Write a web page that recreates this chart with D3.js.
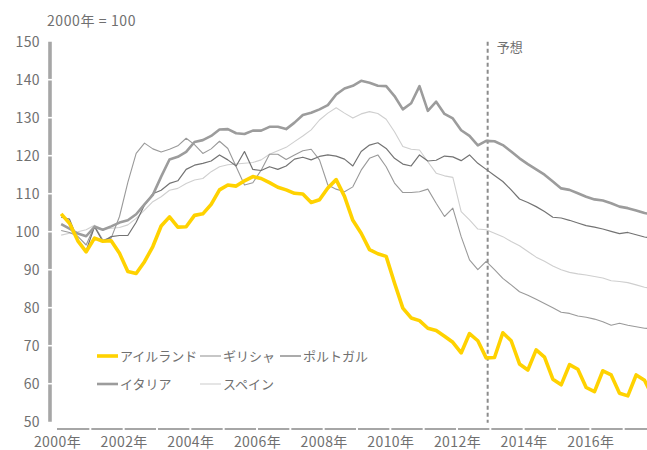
<!DOCTYPE html>
<html lang="ja">
    <head>
        <meta charset="utf-8">
        <title>住宅価格指数 2000年 = 100</title>
        <script type="text/javascript" src="https://cdn.jsdelivr.net/npm/d3@7"></script>
        <style type="text/css">
          html, body {
            margin: 0;
            padding: 0;
            background: #fff;
          }
          svg text {
            font-family: "Noto Sans CJK JP", "Noto Sans", sans-serif;
            fill: #707070;
          }
          .domain { display: none; }
        </style>
    </head>
    <body>
      <svg id="chart" width="647" height="450"></svg>

      <script type="text/javascript">
        // quarterly index, 2000Q1 - 2017Q4 (2000 = 100)
        var ireland = [104.7,102.2,97.6,94.7,98.3,97.5,97.6,94.3,89.5,89.0,
                       92.1,96.1,101.5,103.9,101.2,101.3,104.3,104.7,107.2,111.0,
                       112.3,112.0,113.4,114.5,114.0,112.9,111.7,111.0,110.1,109.9,
                       107.7,108.4,111.5,113.7,109.3,103.0,99.6,95.3,94.2,93.5,
                       86.5,79.9,77.3,76.6,74.6,74.0,72.5,70.9,68.1,73.2,
                       71.3,66.8,66.9,73.4,71.3,65.2,63.6,68.9,67.0,61.2,
                       59.7,65.0,63.8,59.0,57.9,63.4,62.3,57.5,56.8,62.3,60.9,56.5];
        var greece = [100.3,99.8,98.8,96.5,101.5,97.8,98.3,104.0,113.0,120.6,
                      123.3,121.8,121.0,121.7,122.6,124.6,122.9,120.6,121.8,123.8,
                      121.9,117.1,112.3,112.9,116.2,120.4,120.4,119.0,120.2,121.3,
                      121.7,118.9,112.3,111.2,110.5,111.8,116.2,119.3,120.2,117.1,
                      112.8,110.3,110.3,110.5,111.2,107.5,104.0,106.2,98.7,92.6,
                      90.0,92.2,90.0,87.7,86.0,84.2,83.3,82.2,81.1,80.0,
                      78.8,78.5,77.8,77.5,77.0,76.3,75.4,75.9,75.4,75.0,74.6,74.5];
        var portugal = [103.8,103.3,97.8,95.0,101.3,97.4,98.7,99.0,99.0,102.5,
                        107.0,110.0,110.9,112.7,113.4,116.4,117.5,118.0,118.6,120.2,
                        118.9,117.3,121.1,116.4,116.1,117.1,116.4,117.3,119.1,119.6,
                        118.9,119.8,120.2,119.9,119.1,117.3,121.1,122.8,123.4,121.9,
                        119.3,117.8,117.3,120.2,118.6,118.8,119.9,119.7,118.7,120.2,
                        118.0,116.4,114.8,113.2,111.0,108.6,107.7,106.6,105.3,103.8,
                        103.6,103.0,102.3,101.6,101.2,100.7,100.1,99.5,99.8,99.2,98.6,98.3];
        var italy = [102.0,100.8,99.5,98.8,101.3,100.5,101.4,102.4,103.0,104.6,
                     107.2,109.7,114.5,119.0,119.7,121.0,123.6,124.1,125.2,126.9,
                     127.0,125.9,125.7,126.6,126.6,127.6,127.6,127.0,128.7,130.7,
                     131.3,132.2,133.3,136.1,137.7,138.4,139.7,139.2,138.4,138.3,
                     135.7,132.2,133.8,138.3,131.8,134.2,131.0,129.8,126.7,125.2,
                     122.7,123.9,123.8,122.8,121.1,119.3,117.8,116.4,115.0,113.2,
                     111.4,111.0,110.1,109.2,108.5,108.2,107.5,106.6,106.2,105.6,104.9,104.5];
        var spain = [99.1,99.6,100.0,100.5,101.7,100.6,100.9,101.1,101.8,103.5,
                     105.7,107.9,109.2,110.9,111.4,112.7,113.6,114.0,115.8,117.1,
                     117.6,117.8,118.0,118.2,118.9,120.4,121.3,122.2,123.7,125.2,
                     126.8,129.4,131.2,132.6,131.2,129.9,131.0,131.6,131.1,129.6,
                     126.3,122.4,121.7,121.5,118.4,115.4,114.7,114.3,105.3,103.1,
                     100.7,100.5,99.6,98.7,97.4,96.3,94.8,93.3,92.2,91.0,
                     90.0,89.3,88.9,88.6,88.2,87.8,87.1,86.9,86.6,86.0,85.4,85.0];

        var startYear = 2000;
        var endYear = 2018;
        var yTicks = [50, 60, 70, 80, 90, 100, 110, 120, 130, 140, 150];
        var xTickYears = [2000, 2002, 2004, 2006, 2008, 2010, 2012, 2014, 2016];
        var xTickLabels = ["2000年","2002年","2004年","2006年","2008年","2010年","2012年","2014年","2016年"];
        var forecastStart = 2012.92;

        // drawing order: lightest first, Ireland on top
        var series = [
          {name: "スペイン",     values: spain,    color: "#cfcfcf", width: 1.1},
          {name: "ギリシャ",     values: greece,   color: "#9a9a9a", width: 1.1},
          {name: "ポルトガル",   values: portugal, color: "#737373", width: 1.2},
          {name: "イタリア",     values: italy,    color: "#9c9c9c", width: 2.6},
          {name: "アイルランド", values: ireland,  color: "#ffd200", width: 3.6}
        ];
        // legend layout order (row by row)
        var legendOrder = ["アイルランド", "ギリシャ", "ポルトガル", "イタリア", "スペイン"];

        var svg = d3.select("#chart");

        var x = d3.scaleLinear().domain([startYear, endYear]).range([57, 657]);
        var y = d3.scaleLinear().domain([50, 150]).range([421.7, 41.7]);

        // quarter i is drawn at the middle of its category
        var qx = function(i) { return x(startYear + (i + 0.5) / 4); };

        // y axis: thick grey bar broken at every tick
        svg.append("line")
          .attr("x1", 50).attr("x2", 50)
          .attr("y1", y(150)).attr("y2", y(50))
          .attr("stroke", "#a6a6a6")
          .attr("stroke-width", 3.6);
        svg.selectAll(".ygap")
          .data(yTicks.slice(1, -1))
          .enter()
          .append("line")
          .attr("x1", 47).attr("x2", 53)
          .attr("y1", function(d) { return y(d); })
          .attr("y2", function(d) { return y(d); })
          .attr("stroke", "#fff")
          .attr("stroke-width", 1.6);

        svg.append("g")
          .attr("transform", "translate(50,0)")
          .call(d3.axisLeft(y).tickValues(yTicks).tickSize(0).tickPadding(10))
          .call(function(g) { g.selectAll("text").style("font-size", "14px").style("letter-spacing", "0.4px"); });

        // x axis: grey line broken at every year
        svg.append("line")
          .attr("x1", x(startYear)).attr("x2", x(endYear))
          .attr("y1", 429).attr("y2", 429)
          .attr("stroke", "#a6a6a6")
          .attr("stroke-width", 2);
        svg.selectAll(".xgap")
          .data(d3.range(startYear + 1, endYear))
          .enter()
          .append("line")
          .attr("x1", function(d) { return x(d); })
          .attr("x2", function(d) { return x(d); })
          .attr("y1", 426).attr("y2", 432)
          .attr("stroke", "#fff")
          .attr("stroke-width", 2);

        svg.append("g")
          .attr("transform", "translate(0,429)")
          .call(d3.axisBottom(x).tickValues(xTickYears).tickSize(0).tickPadding(8)
            .tickFormat(function(d, i) { return xTickLabels[i]; }))
          .call(function(g) { g.selectAll("text").style("font-size", "14px").style("letter-spacing", "0.4px"); });

        // unit label
        svg.append("text")
          .attr("x", 47).attr("y", 26)
          .style("font-size", "14px")
          .style("letter-spacing", "0.6px")
          .text("2000年 = 100");

        // forecast marker
        svg.append("line")
          .attr("x1", x(forecastStart)).attr("x2", x(forecastStart))
          .attr("y1", y(150)).attr("y2", y(50) + 1)
          .attr("stroke", "#8c8c8c")
          .attr("stroke-width", 2)
          .attr("stroke-dasharray", "4,3");
        svg.append("text")
          .attr("x", x(forecastStart) + 9).attr("y", 52)
          .style("font-size", "13px")
          .text("予想");

        // lines
        var line = d3.line()
          .x(function(d, i) { return qx(i); })
          .y(function(d) { return y(d); });

        svg.selectAll(".series")
          .data(series)
          .enter()
          .append("path")
          .attr("class", "series")
          .attr("fill", "none")
          .attr("stroke", function(d) { return d.color; })
          .attr("stroke-width", function(d) { return d.width; })
          .attr("stroke-linejoin", "round")
          .attr("d", function(d) { return line(d.values); });

        // legend, 3 per row
        var legendX = [97, 200, 280];
        var legendY = [356, 384];
        var legend = svg.selectAll(".legend")
          .data(legendOrder.map(function(n) {
            return series.filter(function(s) { return s.name === n; })[0];
          }))
          .enter()
          .append("g")
          .attr("class", "legend")
          .attr("transform", function(d, i) {
            return "translate(" + legendX[i % 3] + "," + legendY[Math.floor(i / 3)] + ")";
          });
        legend.append("line")
          .attr("x1", 0).attr("x2", 21)
          .attr("stroke", function(d) { return d.color; })
          .attr("stroke-width", function(d) { return d.width; });
        legend.append("text")
          .attr("x", 23)
          .attr("dy", "0.35em")
          .style("font-size", "13px")
          .text(function(d) { return d.name; });
      </script>
    </body>
</html>
